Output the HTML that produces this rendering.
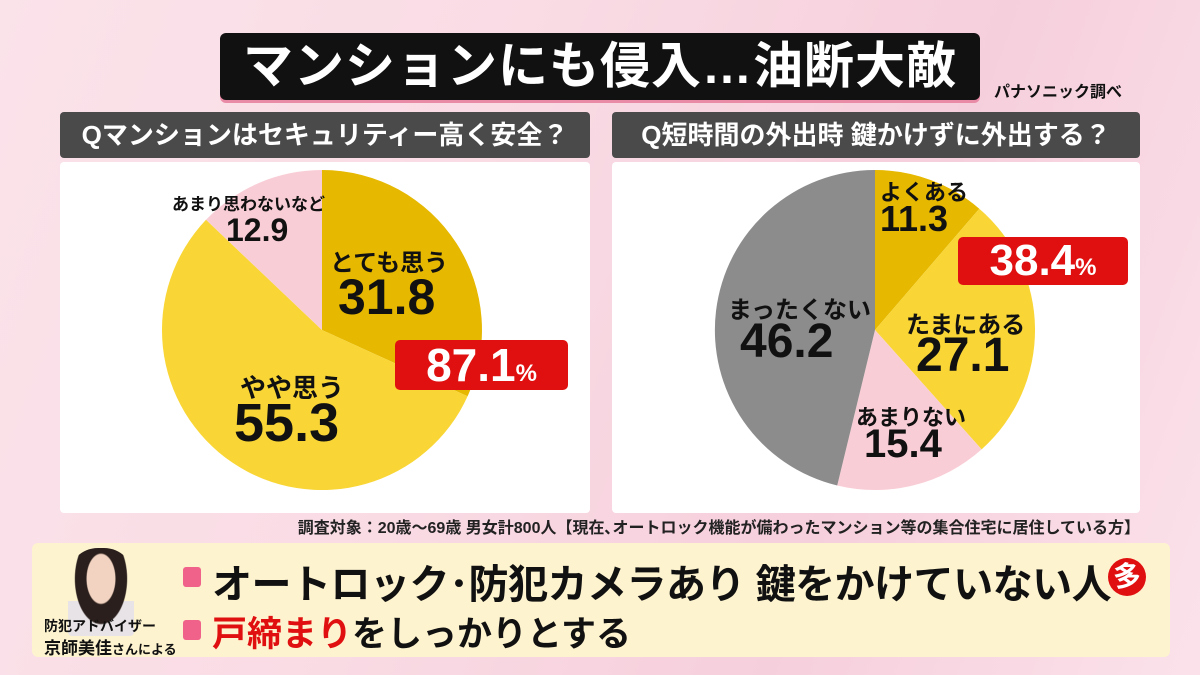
<!DOCTYPE html>
<html><head><meta charset="utf-8"><style>
body{margin:0;width:1200px;height:675px;overflow:hidden;font-family:"Liberation Sans","Noto Sans CJK JP",sans-serif;font-weight:bold;background:linear-gradient(110deg,#fbe3ea 0%,#f9dbe4 40%,#f6cfdc 70%,#fbe2ea 100%);position:relative}
.a{position:absolute;white-space:nowrap}
</style></head><body>
<div class="a" style="left:220px;top:33px;width:760px;height:67px;background:#111;border-radius:6px;box-shadow:0 3px 0 #e98aa6;color:#fff;font-size:50px;line-height:67px;text-align:center;letter-spacing:1px">マンションにも侵入…油断大敵</div>
<div class="a" style="left:994px;top:78px;font-size:16px;color:#111">パナソニック調べ</div>
<div class="a" style="left:60px;top:112px;width:530px;height:46px;background:#4a4a4a;border-radius:4px;color:#fff;font-size:26px;line-height:46px;text-align:center">Qマンションはセキュリティー高く安全？</div>
<div class="a" style="left:612px;top:112px;width:528px;height:46px;background:#4a4a4a;border-radius:4px;color:#fff;font-size:26px;line-height:46px;text-align:center">Q短時間の外出時 鍵かけずに外出する？</div>
<div class="a" style="left:60px;top:162px;width:530px;height:351px;background:#fff;border-radius:4px"></div>
<div class="a" style="left:612px;top:162px;width:528px;height:351px;background:#fff;border-radius:4px"></div>
<svg class="a" style="left:0;top:0" width="1200" height="675">
<path d="M322,330 L322,170 A160,160 0 0 1 467.6,396.3 Z" fill="#e6b800"/>
<path d="M322,330 L467.6,396.3 A160,160 0 1 1 206,219.8 Z" fill="#f9d636"/>
<path d="M322,330 L206,219.8 A160,160 0 0 1 322,170 Z" fill="#f9cdd6"/>
<path d="M875,330 L875,170 A160,160 0 0 1 979.3,208.7 Z" fill="#e6b800"/>
<path d="M875,330 L979.3,208.7 A160,160 0 0 1 981.6,449.4 Z" fill="#f9d636"/>
<path d="M875,330 L981.6,449.4 A160,160 0 0 1 837.2,485.5 Z" fill="#f9cdd6"/>
<path d="M875,330 L837.2,485.5 A160,160 0 0 1 875,170 Z" fill="#8c8c8c"/>
</svg>
<div class="a" style="left:172px;top:190px;font-size:17px;color:#111">あまり思わないなど</div>
<div class="a" style="left:226px;top:212px;font-size:32px;color:#111">12.9</div>
<div class="a" style="left:330px;top:243px;font-size:24px;color:#111">とても思う</div>
<div class="a" style="left:338px;top:268px;font-size:50px;color:#111">31.8</div>
<div class="a" style="left:240px;top:368px;font-size:26px;color:#111">やや思う</div>
<div class="a" style="left:234px;top:392px;font-size:54px;color:#111">55.3</div>
<div class="a" style="left:395px;top:340px;width:173px;height:50px;background:#e01010;border-radius:5px;color:#fff;font-size:46px;line-height:50px;text-align:center">87.1<span style="font-size:24px">%</span></div>
<div class="a" style="left:880px;top:175px;font-size:22px;color:#111">よくある</div>
<div class="a" style="left:880px;top:198px;font-size:36px;color:#111">11.3</div>
<div class="a" style="left:958px;top:237px;width:170px;height:48px;background:#e01010;border-radius:5px;color:#fff;font-size:44px;line-height:48px;text-align:center">38.4<span style="font-size:24px">%</span></div>
<div class="a" style="left:906px;top:305px;font-size:24px;color:#111">たまにある</div>
<div class="a" style="left:916px;top:328px;font-size:48px;color:#111">27.1</div>
<div class="a" style="left:728px;top:290px;font-size:24px;color:#111">まったくない</div>
<div class="a" style="left:740px;top:314px;font-size:48px;color:#111">46.2</div>
<div class="a" style="left:856px;top:400px;font-size:22px;color:#111">あまりない</div>
<div class="a" style="left:864px;top:422px;font-size:40px;color:#111">15.4</div>
<div class="a" style="right:60px;top:514px;font-size:16px;color:#222">調査対象：20歳～69歳 男女計800人【現在､オートロック機能が備わったマンション等の集合住宅に居住している方】</div>
<div class="a" style="left:32px;top:543px;width:1138px;height:114px;background:#fdf3cf;border-radius:6px"></div>
<div class="a" style="left:68px;top:548px;width:66px;height:88px;background:radial-gradient(ellipse at 50% 35%,#f2d2c0 0 30%,#2a1f1c 32% 55%,transparent 57%),linear-gradient(#fdf3cf 60%,#e8e3e6 60%);border-radius:30px 30px 4px 4px"></div>
<div class="a" style="left:44px;top:616px;font-size:14px;color:#111">防犯アドバイザー</div>
<div class="a" style="left:44px;top:634px;font-size:17px;color:#111">京師美佳<span style="font-size:13px">さんによる</span></div>
<div class="a" style="left:183px;top:567px;width:18px;height:20px;background:#f0628a;border-radius:3px"></div>
<div class="a" style="left:212px;top:552px;font-size:40px;color:#111;letter-spacing:-0.5px">オートロック･防犯カメラあり 鍵をかけていない人</div>
<div class="a" style="left:1108px;top:558px;width:38px;height:38px;border-radius:50%;background:#e01010;color:#fff;font-size:28px;line-height:38px;text-align:center">多</div>
<div class="a" style="left:183px;top:620px;width:18px;height:20px;background:#f0628a;border-radius:3px"></div>
<div class="a" style="left:212px;top:606px;font-size:35px;color:#111"><span style="color:#e01010">戸締まり</span>をしっかりとする</div>
</body></html>
